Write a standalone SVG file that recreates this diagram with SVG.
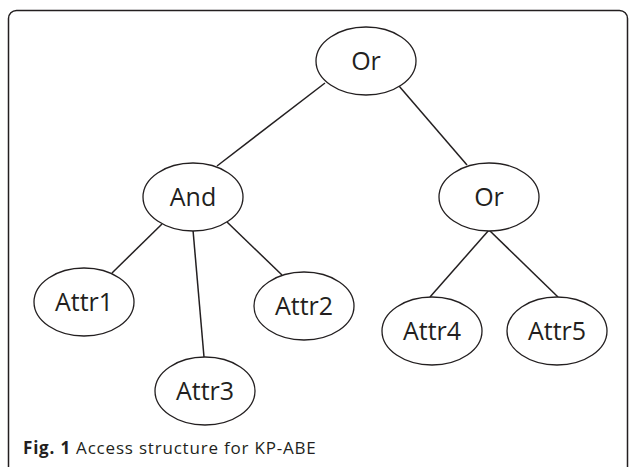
<svg xmlns="http://www.w3.org/2000/svg" width="629" height="467" viewBox="0 0 629 467">
  <style>
    .node ellipse { fill: #ffffff; stroke: #231f20; stroke-width: 1.3; }
    .node text { font-family: "Open Sans", "Liberation Sans", sans-serif; font-size: 25px; fill: #231f20; text-anchor: middle; }
    .edges line { stroke: #231f20; stroke-width: 1.5; }
    .frame { fill: none; stroke: #231f20; stroke-width: 1.5; }
    .cap { font-family: "Open Sans", "Liberation Sans", sans-serif; font-size: 17px; letter-spacing: 0.8px; fill: #231f20; }
  </style>
  <rect width="629" height="467" fill="#ffffff"/>
  <rect class="frame" x="8.5" y="10.5" width="619" height="480" rx="8" ry="8"/>
  <g id="connectors" class="edges">
    <line x1="325" y1="83" x2="217" y2="166"/>
    <line x1="399" y1="86" x2="467" y2="165"/>
    <line x1="162" y1="224" x2="112" y2="273"/>
    <line x1="193" y1="230" x2="204" y2="357"/>
    <line x1="227" y1="222" x2="282" y2="275"/>
    <line x1="489" y1="230" x2="430" y2="297"/>
    <line x1="489" y1="230" x2="558" y2="297"/>
  </g>
  <g id="or-root" class="node"><ellipse cx="366" cy="61" rx="50" ry="34"/><text x="366" y="70">Or</text></g>
  <g id="and" class="node"><ellipse cx="193" cy="197" rx="50" ry="34"/><text x="193" y="206">And</text></g>
  <g id="or-right" class="node"><ellipse cx="489" cy="197" rx="50" ry="34"/><text x="489" y="206">Or</text></g>
  <g id="attr1" class="node"><ellipse cx="84" cy="302" rx="50" ry="34"/><text x="84" y="311">Attr1</text></g>
  <g id="attr2" class="node"><ellipse cx="304" cy="306" rx="50" ry="34"/><text x="304" y="315">Attr2</text></g>
  <g id="attr3" class="node"><ellipse cx="205" cy="391" rx="50" ry="34"/><text x="205" y="400">Attr3</text></g>
  <g id="attr4" class="node"><ellipse cx="432" cy="331" rx="50" ry="34"/><text x="432" y="340">Attr4</text></g>
  <g id="attr5" class="node"><ellipse cx="557" cy="331" rx="50" ry="34"/><text x="557" y="340">Attr5</text></g>
  <text class="cap" x="23" y="454"><tspan font-weight="bold">Fig. 1</tspan> Access structure for KP-ABE</text>
</svg>
